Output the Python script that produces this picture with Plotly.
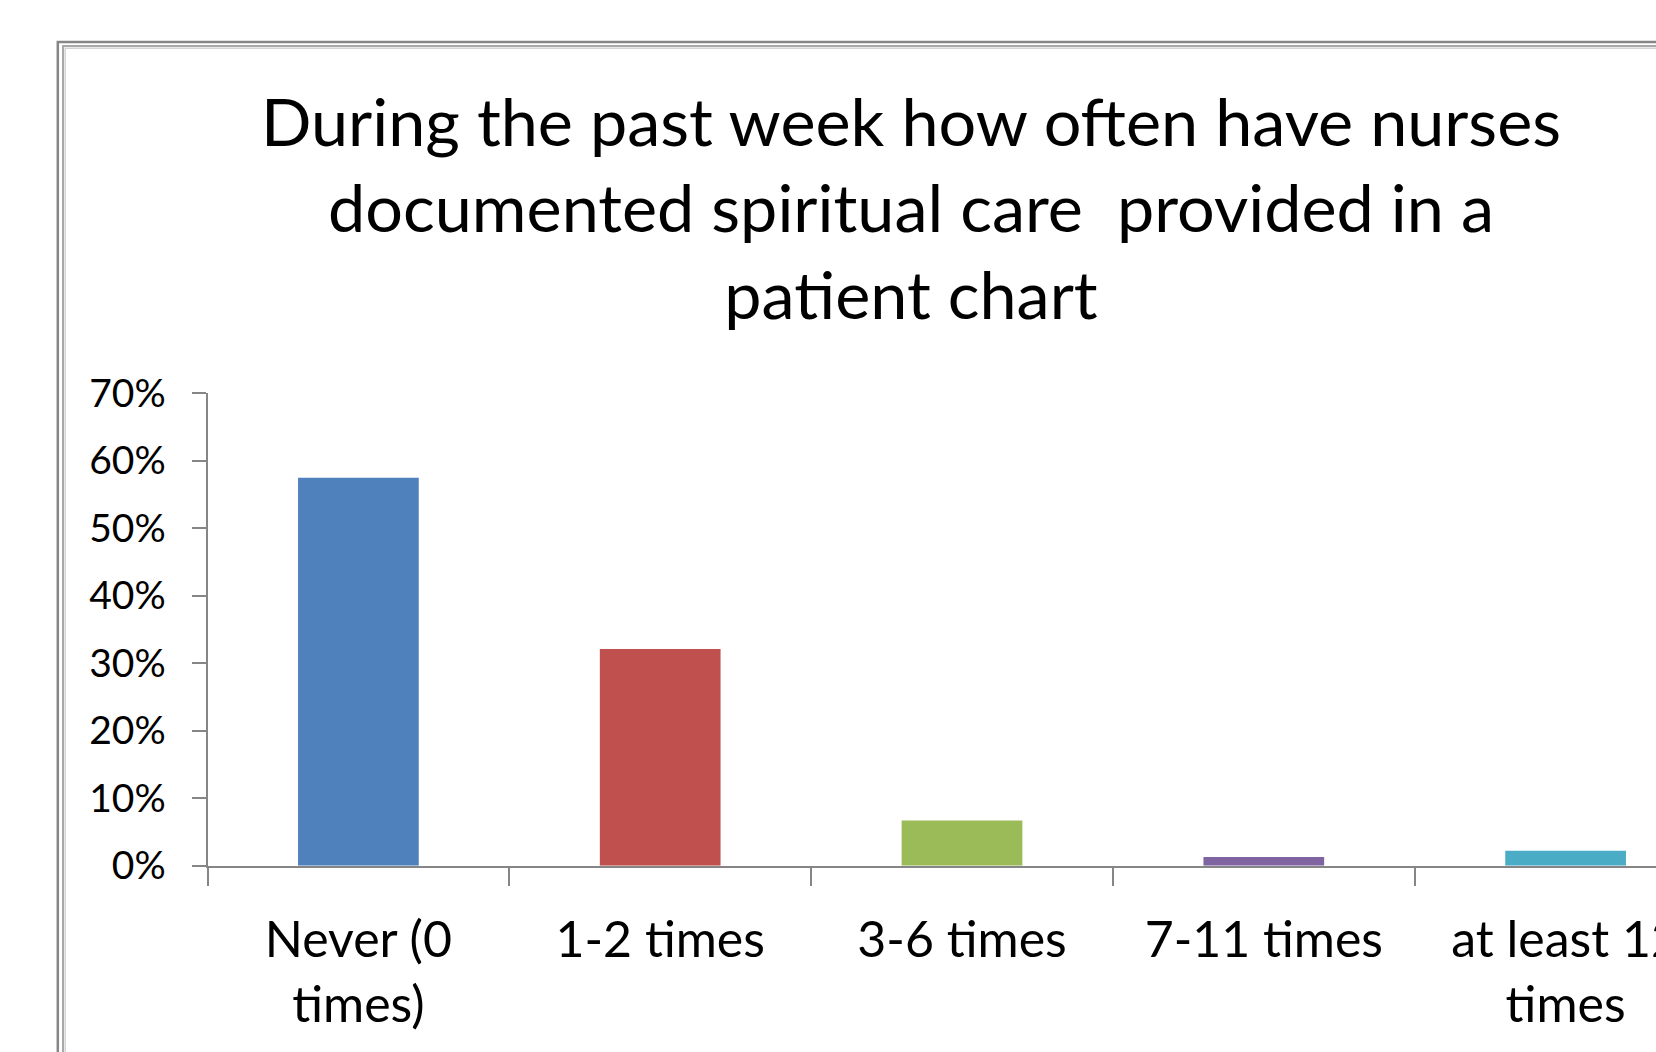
import plotly.graph_objects as go

categories = ["Never (0<br>times)", "1-2 times", "3-6 times", "7-11 times", "at least 12<br>times"]
values = [0.575, 0.321, 0.067, 0.013, 0.022]
colors = ["#4F81BD", "#C0504D", "#9BBB59", "#8064A2", "#4BACC6"]
y_ticks = [0, 0.1, 0.2, 0.3, 0.4, 0.5, 0.6, 0.7]
y_tick_labels = ["0%", "10%", "20%", "30%", "40%", "50%", "60%", "70%"]
title_text = ("During the past week how often have nurses<br>"
              "documented spiritual care\u00a0 provided in a<br>"
              "patient chart")

W, H = 1656, 1052
FONT = "Lato"

fig = go.Figure(go.Bar(
    x=categories, y=values,
    marker=dict(color=colors, line=dict(width=0)),
    width=0.4,
))

x_left_px = 207.5
spacing_px = 301.8
x_right_range = -0.5 + (W - x_left_px) / spacing_px

fig.update_layout(
    width=W, height=H,
    margin=dict(l=0, r=0, t=0, b=0, autoexpand=False),
    paper_bgcolor="white", plot_bgcolor="white",
    showlegend=False,
    font=dict(family=FONT, color="black"),
    title=dict(text=title_text, x=911 / W, xanchor="center", xref="paper",
               y=1 - 146 / H, yanchor="top", yref="container",
               font=dict(family=FONT, size=66.5, color="black")),
    xaxis=dict(
        type="category",
        domain=[x_left_px / W, 1.0],
        range=[-0.5, x_right_range],
        tickson="boundaries",
        ticks="outside", ticklen=18, tickwidth=2, tickcolor="#868686",
        showline=True, linecolor="#868686", linewidth=2,
        showgrid=False, zeroline=False,
        tickfont=dict(family=FONT, size=50, color="black"),
        ticklabeloverflow="allow",
        ticklabelstandoff=29,
        automargin=False,
        fixedrange=True,
    ),
    yaxis=dict(
        domain=[(H - 865.7) / H, (H - 393.3) / H],
        range=[0, 0.7],
        tickmode="array", tickvals=y_ticks, ticktext=y_tick_labels,
        ticks="outside", ticklen=14, tickwidth=2, tickcolor="#868686",
        showline=True, linecolor="#868686", linewidth=2,
        showgrid=False, zeroline=False,
        tickfont=dict(family=FONT, size=39, color="black"),
        ticklabelstandoff=18,
        automargin=False,
        fixedrange=True,
    ),
    shapes=[
        dict(type="rect", xref="paper", yref="paper",
             x0=57.8 / W, x1=(W + 50) / W, y0=-0.1, y1=(H - 42) / H,
             line=dict(color="#868686", width=2.5), layer="above"),
        dict(type="rect", xref="paper", yref="paper",
             x0=63 / W, x1=(W + 40) / W, y0=-0.1, y1=(H - 46) / H,
             line=dict(color="#a8a8a8", width=2), layer="above"),
        dict(type="rect", xref="paper", yref="paper",
             x0=65.2 / W, x1=(W + 30) / W, y0=-0.1, y1=(H - 48.2) / H,
             line=dict(color="#d4d4d4", width=1.5), layer="above"),
    ],
)

fig.write_html(
    "out.html",
    config={"displayModeBar": False},
    post_script="document.body.style.margin='0px';document.body.style.overflow='hidden';",
)
